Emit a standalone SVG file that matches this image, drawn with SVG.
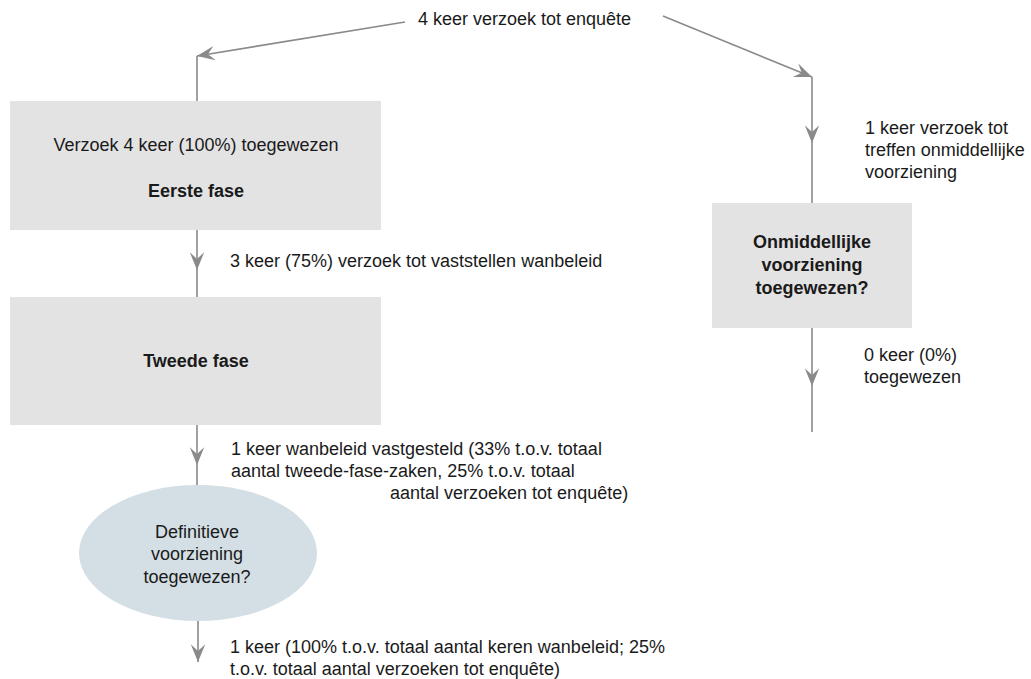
<svg xmlns="http://www.w3.org/2000/svg" width="1031" height="679" viewBox="0 0 1031 679">
<style>
text{font-family:"Liberation Sans",Arial,sans-serif;font-size:18px;fill:#1a1a1a}
.b{font-weight:bold}
.c{text-anchor:middle}
.box{fill:#e3e3e3}
.ell{fill:#d3dfe5}
.ln{stroke:#8a8a8a;stroke-width:1.6;fill:none}
</style>
<defs>
<marker id="ah" markerUnits="userSpaceOnUse" markerWidth="20" markerHeight="20" viewBox="-16 -8 18 16" refX="0" refY="0" orient="auto">
<path d="M0,0 L-16,-6.5 L-10,0 L-16,6.5 Z" fill="#8a8a8a"/>
</marker>
</defs>
<g id="connectors">
<path class="ln" d="M405,22 L197,56" marker-end="url(#ah)"/>
<path class="ln" d="M197,56 L197,101"/>
<path class="ln" d="M663,16 L812,77" marker-end="url(#ah)"/>
<path class="ln" d="M812,77 L812,143" marker-end="url(#ah)"/>
<path class="ln" d="M812,143 L812,203"/>
<path class="ln" d="M197,230 L197,270" marker-end="url(#ah)"/>
<path class="ln" d="M197,270 L197,297"/>
<path class="ln" d="M197,425 L197,465" marker-end="url(#ah)"/>
<path class="ln" d="M197,465 L197,485"/>
<path class="ln" d="M198,621 L198,662" marker-end="url(#ah)"/>
<path class="ln" d="M812,328 L812,386" marker-end="url(#ah)"/>
<path class="ln" d="M812,386 L812,432"/>
</g>
<g id="label-top"><text x="418" y="25">4 keer verzoek tot enquête</text></g>
<g id="eerste-fase">
<rect class="box" x="10" y="101" width="371" height="129"/>
<text class="c" x="196" y="151">Verzoek 4 keer (100%) toegewezen</text>
<text class="c b" x="196" y="197">Eerste fase</text>
</g>
<g id="label-3keer"><text x="230" y="267">3 keer (75%) verzoek tot vaststellen wanbeleid</text></g>
<g id="tweede-fase">
<rect class="box" x="10" y="297" width="371" height="128"/>
<text class="c b" x="196" y="367">Tweede fase</text>
</g>
<g id="label-1keer">
<text x="231" y="455">1 keer wanbeleid vastgesteld (33% t.o.v. totaal</text>
<text x="231" y="477">aantal tweede-fase-zaken, 25% t.o.v. totaal</text>
<text x="390" y="499">aantal verzoeken tot enquête)</text>
</g>
<g id="definitieve">
<ellipse class="ell" cx="198" cy="553" rx="119" ry="68"/>
<text class="c" x="197" y="538">Definitieve</text>
<text class="c" x="197" y="560">voorziening</text>
<text class="c" x="197" y="583">toegewezen?</text>
</g>
<g id="label-bottom">
<text x="230" y="653">1 keer (100% t.o.v. totaal aantal keren wanbeleid; 25%</text>
<text x="230" y="675">t.o.v. totaal aantal verzoeken tot enquête)</text>
</g>
<g id="label-right">
<text x="865" y="134">1 keer verzoek tot</text>
<text x="865" y="156">treffen onmiddellijke</text>
<text x="865" y="178">voorziening</text>
</g>
<g id="onmiddellijke">
<rect class="box" x="712" y="203" width="200" height="125"/>
<text class="c b" x="812" y="248">Onmiddellijke</text>
<text class="c b" x="812" y="271">voorziening</text>
<text class="c b" x="812" y="294">toegewezen?</text>
</g>
<g id="label-0keer">
<text x="864" y="361">0 keer (0%)</text>
<text x="864" y="383">toegewezen</text>
</g>
</svg>
